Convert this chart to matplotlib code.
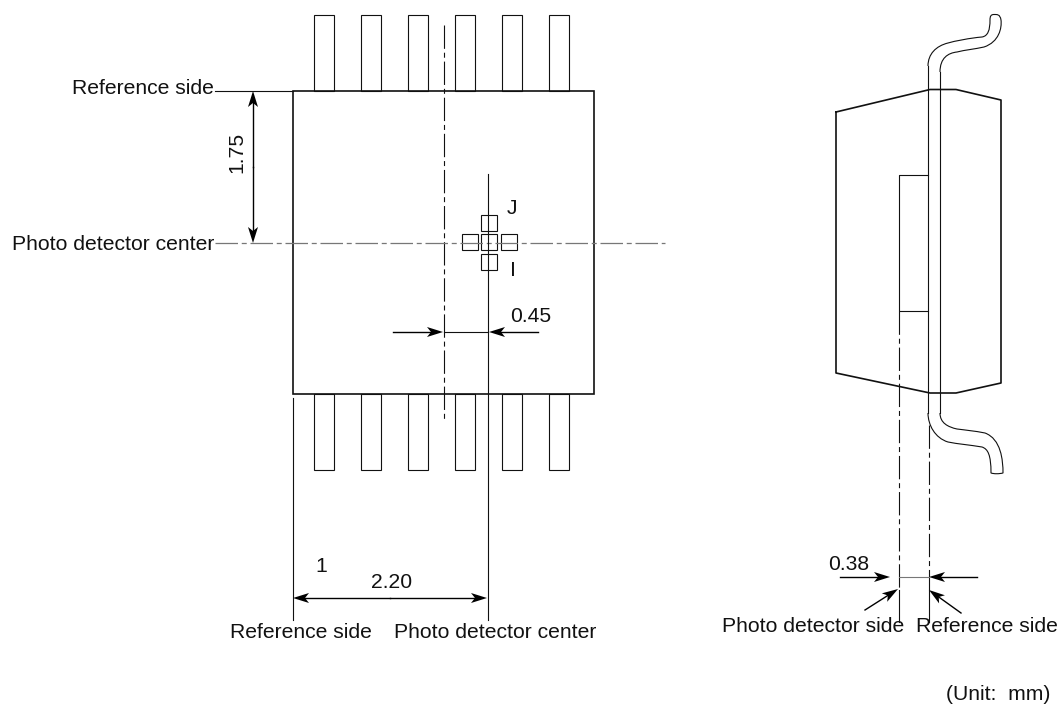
import numpy as np
import matplotlib
matplotlib.use("Agg")
import matplotlib.pyplot as plt
from matplotlib.path import Path
from matplotlib.patches import PathPatch, Polygon, Rectangle

plt.rcParams['font.family'] = ['Liberation Sans', 'DejaVu Sans']

# drawing in pixels, y going down
W, H = 1063, 707
INK = '#111111'
GRAY = '#777777'

# front view
box = [293, 91, 594, 394]
lead_left = [314, 361, 408, 455, 502, 549]
lead_width = 20
lead_top = [15, 91]
lead_bottom = [394, 470]
cell_size = 16
cells = [(481, 234), (481, 215), (481, 254), (462, 234), (501, 234)]

# side view
body_x = [836, 930, 956, 1001, 1001, 956, 930, 836, 836]
body_y = [112, 89.5, 89.5, 100, 383, 393, 393, 373, 112]
die_x = [928, 899, 899, 928]
die_y = [175, 175, 311, 311]

# lead outlines as (x, y) knots of cubic curves: start, then c1, c2, end ...
lead_upper = [(928, 66),
              (928, 54), (936, 46), (948, 43),
              (955, 41), (970, 38), (982, 37),
              (988, 36), (990, 30), (990, 20),
              (990, 16), (991, 14.5), (994, 14.5),
              (997, 14.5), (1000, 14), (1001, 20),
              (1002, 28), (999, 42), (984, 47),
              (975, 49), (965, 50), (957, 52),
              (948, 53), (940, 58), (940, 72)]
lead_lower = [(928, 413),
              (928, 425), (935, 438), (948, 442),
              (958, 444), (970, 445), (982, 447),
              (988, 449), (991, 455), (991, 473),
              (994, 474), (999, 474), (1003, 473),
              (1003, 460), (1001, 439), (985, 433),
              (975, 431), (965, 430), (957, 429),
              (948, 427), (940, 423), (940, 413)]

# dimension arrows (tail, head)
arrows = [((393, 332), (443, 332)), ((538, 332), (489, 332)),
          ((840, 577), (890, 577)), ((977, 577), (929, 577)),
          ((865, 610), (898, 589)), ((961, 613), (929, 590)),
          ((253, 167), (253, 91)), ((253, 167), (253, 243)),
          ((390, 598), (293, 598)), ((390, 598), (487, 598))]

# (x, y, text, ha, rotation)
labels = [(214, 89, 'Reference side', 'right', 0),
          (214, 244, 'Photo detector center', 'right', 0),
          (236.5, 152, '1.75', 'center', 90),
          (512, 209, 'J', 'center', 0),
          (512.5, 270, 'I', 'center', 0),
          (531, 317, '0.45', 'center', 0),
          (321, 567, '1', 'center', 0),
          (392, 583, '2.20', 'center', 0),
          (300.5, 633, 'Reference side', 'center', 0),
          (495.5, 633, 'Photo detector center', 'center', 0),
          (848.5, 564, '0.38', 'center', 0),
          (813, 626, 'Photo detector side', 'center', 0),
          (987, 626, 'Reference side', 'center', 0),
          (998.5, 694, '(Unit:  mm)', 'center', 0)]


def draw_arrow(ax, tail, head, length=16, width=10, notch=4):
    # barbed head like the drafting arrows in the drawing
    tail = np.array(tail, dtype=float)
    head = np.array(head, dtype=float)
    u = (head - tail) / np.linalg.norm(head - tail)
    n = np.array([-u[1], u[0]])
    base = head - u * length
    ax.plot([tail[0], base[0] + u[0] * notch], [tail[1], base[1] + u[1] * notch],
            color='black', lw=1)
    ax.add_patch(Polygon([head, base + n * width / 2, base + u * notch, base - n * width / 2],
                         closed=True, fc='black', ec='none'))


fig = plt.figure(figsize=(W / 100, H / 100), dpi=100)
ax = fig.add_axes([0, 0, 1, 1])
ax.set_xlim(0, W)
ax.set_ylim(H, 0)
ax.axis('off')

centerline = (0, (21, 3.5, 4.5, 3.5))
centerline_gray = (0, (18, 3, 4, 3))

# front view
ax.add_patch(Rectangle((box[0], box[1]), box[2] - box[0], box[3] - box[1],
                       fill=False, ec=INK, lw=1.2))
for x in lead_left:
    for y0, y1 in (lead_top, lead_bottom):
        ax.add_patch(Rectangle((x, y0), lead_width, y1 - y0, fill=False, ec=INK, lw=0.8))
for x, y in cells:
    ax.add_patch(Rectangle((x, y), cell_size, cell_size, fill=False, ec=INK, lw=0.8))

ax.plot([444, 444], [25, 420], color=INK, lw=0.8, ls=centerline)
ax.plot([215, 665], [243, 243], color=GRAY, lw=0.9, ls=centerline_gray)
ax.plot([215, 293], [91, 91], color=INK, lw=0.8)
ax.plot([293, 293], [398, 620], color=INK, lw=0.8)
ax.plot([488, 488], [174, 620], color=INK, lw=0.8)
ax.plot([444, 488], [332, 332], color=INK, lw=0.8)

# side view
ax.plot(body_x, body_y, color=INK, lw=1.2)
ax.plot(die_x, die_y, color=INK, lw=0.8)
for knots in (lead_upper, lead_lower):
    codes = [Path.MOVETO] + [Path.CURVE4] * (len(knots) - 1)
    ax.add_patch(PathPatch(Path(knots, codes), fill=False, ec=INK, lw=0.8))
ax.plot([928, 928], [66, 413], color=INK, lw=0.8)
ax.plot([940, 940], [72, 413], color=INK, lw=0.8)
ax.plot([899, 899], [311, 590], color=INK, lw=0.8, ls=centerline)
ax.plot([928.5, 928.5], [425, 590], color=INK, lw=0.8, ls=centerline)
ax.plot([899, 899], [590, 622], color=INK, lw=0.8)
ax.plot([928.5, 928.5], [590, 622], color=INK, lw=0.8)
ax.plot([899, 929], [577, 577], color=GRAY, lw=0.8)

# dimensions
for tail, head in arrows:
    draw_arrow(ax, tail, head)

for x, y, s, ha, rot in labels:
    ax.text(x, y, s, ha=ha, va='center', rotation=rot, fontsize=15.2, color=INK)

fig.savefig('out.png', dpi=100)
